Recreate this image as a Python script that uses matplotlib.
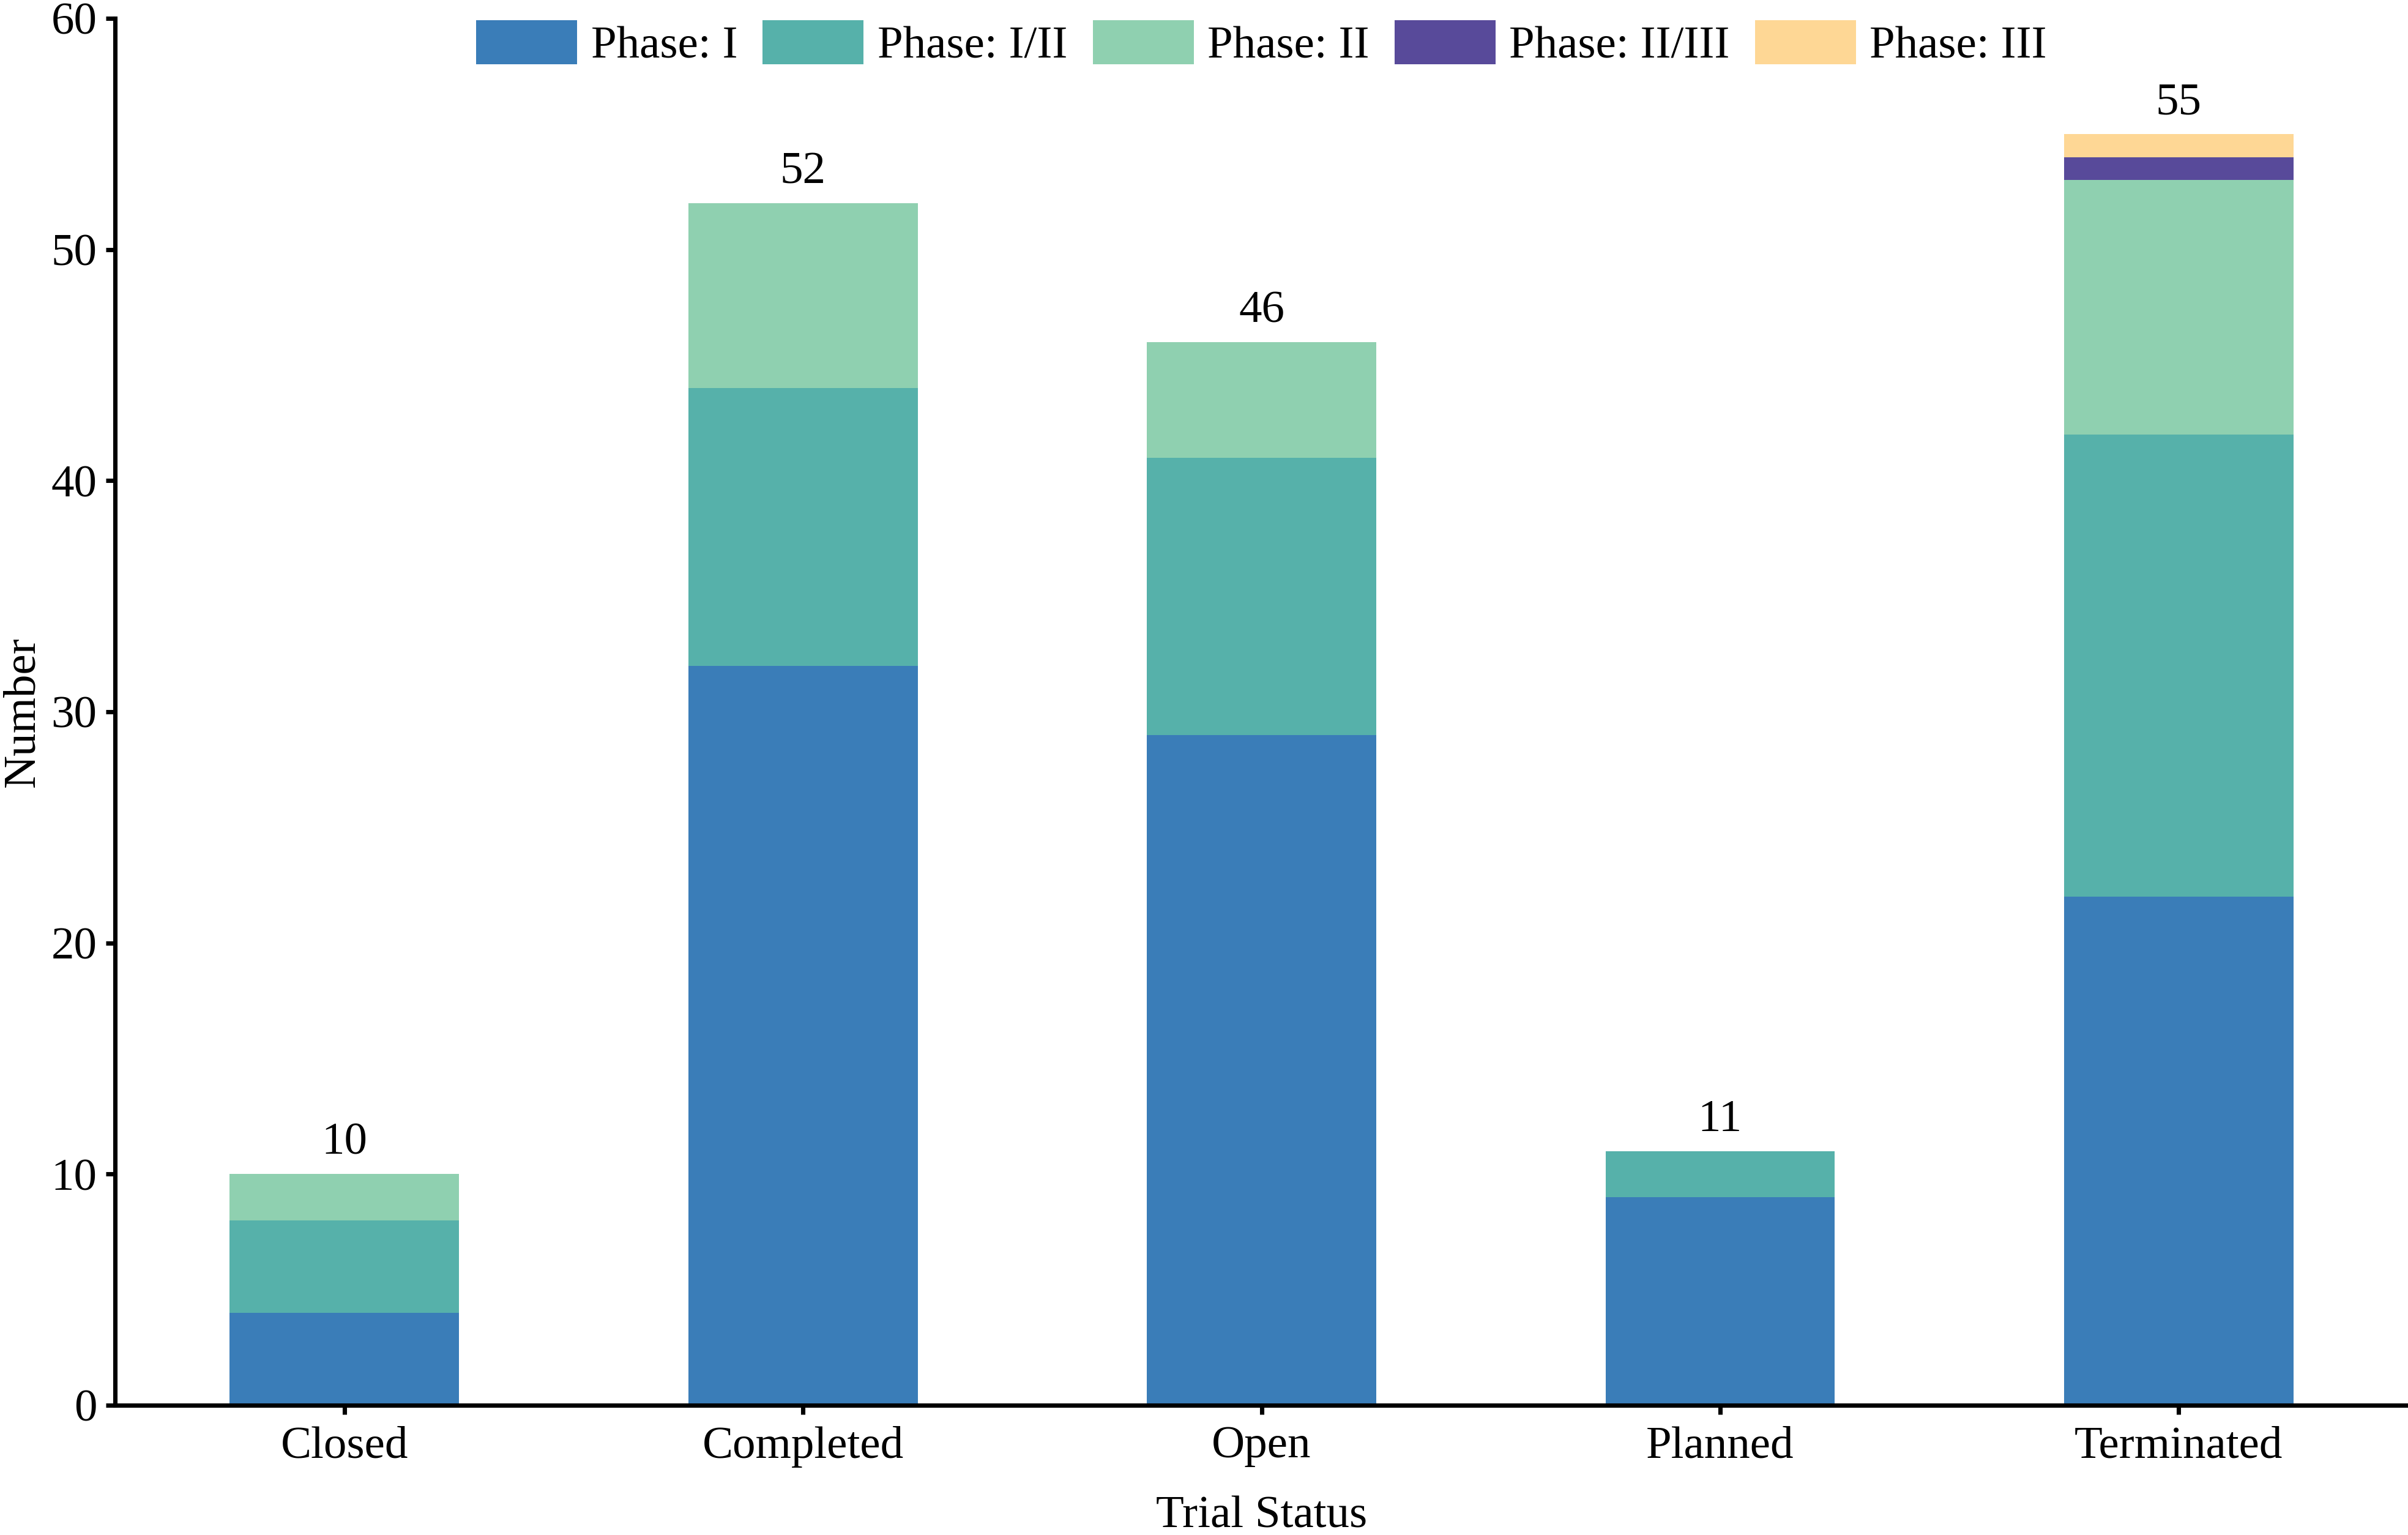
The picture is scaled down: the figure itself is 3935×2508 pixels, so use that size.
import numpy as np
import matplotlib.pyplot as plt

# trial status categories and counts per phase
statuses = ['Closed', 'Completed', 'Open', 'Planned', 'Terminated']
phase_names = ['Phase: I', 'Phase: I/II', 'Phase: II', 'Phase: II/III', 'Phase: III']
phase_1 = [4, 32, 29, 9, 22]
phase_1_2 = [4, 12, 12, 2, 20]
phase_2 = [2, 8, 5, 0, 11]
phase_2_3 = [0, 0, 0, 0, 1]
phase_3 = [0, 0, 0, 0, 1]
colors = ['#3a7db8', '#56b1aa', '#8fd0b0', '#584a9a', '#fed795']

plt.rcParams['font.family'] = 'serif'
plt.rcParams['font.serif'] = ['Liberation Serif', 'Times New Roman', 'DejaVu Serif']
plt.rcParams['font.size'] = 18

fig = plt.figure(figsize=(3935 / 300, 2508 / 300), dpi=300)
ax = fig.add_axes([0.0478, 0.0845, 0.9522, 0.9035])

x = np.arange(len(statuses))
bottom = np.zeros(len(statuses))
containers = []
for name, vals, col in zip(phase_names, [phase_1, phase_1_2, phase_2, phase_2_3, phase_3], colors):
    c = ax.bar(x, vals, width=0.5, bottom=bottom, color=col, label=name)
    containers.append(c)
    bottom += np.array(vals)

totals = [str(int(t)) for t in bottom]
ax.bar_label(containers[-1], labels=totals, padding=4, fontsize=18)

ax.set_xlim(-0.5, 4.5)
ax.set_ylim(0, 60)
ax.set_yticks(range(0, 61, 10))
ax.set_xticks(x)
ax.set_xticklabels(statuses)
ax.set_xlabel('Trial Status', labelpad=11)
ax.set_ylabel('Number', labelpad=3)

for s in ['top', 'right']:
    ax.spines[s].set_visible(False)
for s in ['left', 'bottom']:
    ax.spines[s].set_linewidth(1.7)
ax.tick_params(width=1.7, length=3.6, labelsize=18)
ax.tick_params(axis='x', pad=4.5)

ax.legend(loc='center', bbox_to_anchor=(0.5, 0.9815), ncol=5, frameon=False,
          handlelength=2.2, handleheight=1.1, handletextpad=0.3,
          columnspacing=0.55, fontsize=18)

fig.savefig('out.png', dpi=300)
